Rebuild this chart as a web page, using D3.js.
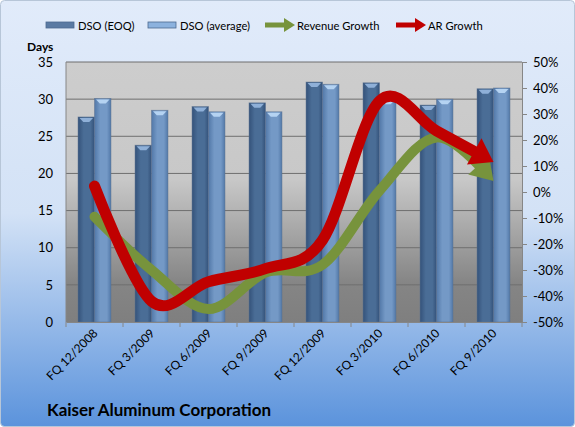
<!DOCTYPE html>
<html>
<head>
<meta charset="utf-8">
<script src="https://cdn.jsdelivr.net/npm/d3@7"></script>
<style>
  body { margin: 0; background: #fff; }
  svg text { font-family: Lato, "Open Sans", sans-serif; fill: #000; }
</style>
</head>
<body>
<div id="chart"></div>
<script>
// data
var categories = ["FQ 12/2008", "FQ 3/2009", "FQ 6/2009", "FQ 9/2009",
                  "FQ 12/2009", "FQ 3/2010", "FQ 6/2010", "FQ 9/2010"];
var dsoEoq = [27.6, 23.8, 29.0, 29.5, 32.3, 32.2, 29.2, 31.4];
var dsoAvg = [30.1, 28.5, 28.3, 28.3, 32.0, 30.0, 30.0, 31.5];
var revenueGrowth = [-9.5, -30, -45, -31, -28, 0.5, 21, 4.2];
var arGrowth = [2.3, -42, -34.5, -29.5, -18.5, 35, 23.5, 11.5];
var leftTicks = [0, 5, 10, 15, 20, 25, 30, 35];
var rightTicks = [-50, -40, -30, -20, -10, 0, 10, 20, 30, 40, 50];

var width = 575, height = 427;
var plot = { left: 66, right: 522, top: 62, bottom: 322 };

var svg = d3.select("#chart").append("svg")
    .attr("width", width)
    .attr("height", height);

var defs = svg.append("defs");

// chart background gradient
var bg = defs.append("linearGradient").attr("id", "bgGrad")
    .attr("x1", 0).attr("y1", 0).attr("x2", 0).attr("y2", 1);
bg.append("stop").attr("offset", "0%").attr("stop-color", "#e1ebfa");
bg.append("stop").attr("offset", "50%").attr("stop-color", "#d3e2f6");
bg.append("stop").attr("offset", "100%").attr("stop-color", "#5b93dc");

// plot area gradient
var pg = defs.append("linearGradient").attr("id", "plotGrad")
    .attr("x1", 0).attr("y1", 0).attr("x2", 0).attr("y2", 1);
pg.append("stop").attr("offset", "0%").attr("stop-color", "#cdcdcd");
pg.append("stop").attr("offset", "45%").attr("stop-color", "#c8c8c8");
pg.append("stop").attr("offset", "85%").attr("stop-color", "#858585");
pg.append("stop").attr("offset", "100%").attr("stop-color", "#7f7f7f");

// bar cylinder gradients
function barGrad(id, edge, mid) {
    var g = defs.append("linearGradient").attr("id", id)
        .attr("x1", 0).attr("y1", 0).attr("x2", 1).attr("y2", 0);
    g.append("stop").attr("offset", "0%").attr("stop-color", edge);
    g.append("stop").attr("offset", "35%").attr("stop-color", mid);
    g.append("stop").attr("offset", "75%").attr("stop-color", mid);
    g.append("stop").attr("offset", "100%").attr("stop-color", edge);
}
barGrad("eoqGrad", "#34527a", "#4a6d96");
barGrad("avgGrad", "#5278a8", "#7499c6");

svg.append("rect")
    .attr("x", 0.5).attr("y", 0.5)
    .attr("width", width - 1).attr("height", height - 1)
    .attr("rx", 4)
    .attr("fill", "url(#bgGrad)")
    .attr("stroke", "#b7c6d8");

// scales
var x = d3.scaleBand()
    .domain(categories)
    .range([plot.left, plot.right]);
var xSub = d3.scaleBand()
    .domain(["eoq", "avg"])
    .range([0, x.bandwidth()])
    .paddingInner(0)
    .paddingOuter(0.73);
var yLeft = d3.scaleLinear().domain([0, 35]).range([plot.bottom, plot.top]);
var yRight = d3.scaleLinear().domain([-50, 50]).range([plot.bottom, plot.top]);

// plot area
svg.append("rect")
    .attr("x", plot.left).attr("y", plot.top)
    .attr("width", plot.right - plot.left)
    .attr("height", plot.bottom - plot.top)
    .attr("fill", "url(#plotGrad)");

// gridlines
svg.append("g")
    .selectAll("line")
    .data(leftTicks.slice(1))
    .enter().append("line")
    .attr("x1", plot.left).attr("x2", plot.right)
    .attr("y1", function (d) { return yLeft(d); })
    .attr("y2", function (d) { return yLeft(d); })
    .attr("stroke", "#6f6f6f")
    .attr("stroke-width", 1);

// bars
var series = [
    { key: "eoq", values: dsoEoq, fill: "url(#eoqGrad)", cap: "#8fb0d8" },
    { key: "avg", values: dsoAvg, fill: "url(#avgGrad)", cap: "#b5d3f2" }
];
series.forEach(function (s) {
    var g = svg.append("g");
    g.selectAll("rect")
        .data(s.values)
        .enter().append("rect")
        .attr("x", function (d, i) { return x(categories[i]) + xSub(s.key); })
        .attr("y", function (d) { return yLeft(d); })
        .attr("width", xSub.bandwidth())
        .attr("height", function (d) { return plot.bottom - yLeft(d); })
        .attr("fill", s.fill)
        .attr("stroke", "#5c7290")
        .attr("stroke-opacity", 0.6)
        .attr("stroke-width", 0.8);
    // little top cap
    g.selectAll("path.cap")
        .data(s.values)
        .enter().append("path")
        .attr("class", "cap")
        .attr("d", function (d, i) {
            var x0 = x(categories[i]) + xSub(s.key) + 1.5;
            var w = xSub.bandwidth() - 3;
            var y0 = yLeft(d) + 1;
            return "M" + x0 + "," + y0 + "L" + (x0 + w) + "," + y0 +
                "L" + (x0 + w * 0.72) + "," + (y0 + 4) +
                "L" + (x0 + w * 0.28) + "," + (y0 + 4) + "Z";
        })
        .attr("fill", s.cap);
});

// axes
var axisColor = "#868686";
svg.append("line")
    .attr("x1", plot.left).attr("x2", plot.left)
    .attr("y1", plot.top).attr("y2", plot.bottom)
    .attr("stroke", axisColor);

var xAxis = svg.append("g")
    .attr("transform", "translate(0," + plot.bottom + ")")
    .call(d3.axisBottom(x).tickSize(0).tickFormat(""));
xAxis.select(".domain").attr("stroke", axisColor);
svg.append("g")
    .selectAll("line")
    .data(d3.range(categories.length + 1))
    .enter().append("line")
    .attr("x1", function (i) { return plot.left + i * x.step(); })
    .attr("x2", function (i) { return plot.left + i * x.step(); })
    .attr("y1", plot.bottom).attr("y2", plot.bottom + 5)
    .attr("stroke", axisColor);

svg.append("g")
    .selectAll("text")
    .data(categories)
    .enter().append("text")
    .attr("transform", function (d) {
        return "translate(" + (x(d) + x.bandwidth() / 2 + 4) + "," + (plot.bottom + 12) + ")rotate(-45)";
    })
    .attr("text-anchor", "end")
    .attr("font-size", 12)
    .text(function (d) { return d; });

var leftAxis = svg.append("g")
    .attr("transform", "translate(" + plot.left + ",0)")
    .call(d3.axisLeft(yLeft).tickValues(leftTicks).tickSize(0).tickPadding(13));
leftAxis.select(".domain").remove();
leftAxis.selectAll("text")
    .attr("font-size", 13)
    .attr("font-family", "Lato, sans-serif")
    .attr("fill", "#000");

var rightAxis = svg.append("g")
    .attr("transform", "translate(" + plot.right + ",0)")
    .call(d3.axisRight(yRight).tickValues(rightTicks).tickSize(5).tickPadding(6)
        .tickFormat(function (d) { return d + "%"; }));
rightAxis.select(".domain").attr("stroke", axisColor);
rightAxis.selectAll("line").attr("stroke", axisColor);
rightAxis.selectAll("text")
    .attr("font-size", 13)
    .attr("font-family", "Lato, sans-serif")
    .attr("fill", "#000");

svg.append("text")
    .attr("x", 27).attr("y", 51)
    .attr("font-size", 12)
    .attr("font-weight", "bold")
    .text("Days");

// growth lines with arrow heads
var line = d3.line()
    .x(function (d, i) { return x(categories[i]) + x.bandwidth() / 2; })
    .y(function (d) { return yRight(d); })
    .curve(d3.curveCatmullRom.alpha(0));

function drawArrow(values, color, lw, headLen, headW) {
    var path = svg.append("path")
        .attr("d", line(values))
        .attr("fill", "none")
        .attr("stroke", color)
        .attr("stroke-width", lw)
        .attr("stroke-linejoin", "round")
        .attr("stroke-linecap", "round");
    var node = path.node();
    var total = node.getTotalLength();
    path.attr("stroke-dasharray", (total - headLen + 1) + "," + (headLen + 10));
    var tip = node.getPointAtLength(total);
    var base = node.getPointAtLength(total - headLen);
    var ang = Math.atan2(tip.y - base.y, tip.x - base.x);
    var nx = -Math.sin(ang) * headW / 2, ny = Math.cos(ang) * headW / 2;
    svg.append("path")
        .attr("d", "M" + tip.x + "," + tip.y +
            "L" + (base.x + nx) + "," + (base.y + ny) +
            "L" + (base.x - nx) + "," + (base.y - ny) + "Z")
        .attr("fill", color);
}
drawArrow(revenueGrowth, "#77933c", 10, 22, 28);
drawArrow(arGrowth, "#c00000", 11, 22, 30);

// legend
var legend = svg.append("g").attr("transform", "translate(0,25)");
[
    { x: 46, label: "DSO (EOQ)", fill: "#5a7aa3", type: "bar" },
    { x: 148, label: "DSO (average)", fill: "#8cb2de", type: "bar" },
    { x: 265, label: "Revenue Growth", fill: "#77933c", type: "arrow" },
    { x: 396, label: "AR Growth", fill: "#c00000", type: "arrow" }
].forEach(function (item) {
    if (item.type === "bar") {
        legend.append("rect")
            .attr("x", item.x).attr("y", -3)
            .attr("width", 28).attr("height", 6)
            .attr("fill", item.fill)
            .attr("stroke", "#4d6a90").attr("stroke-width", 0.8);
    } else {
        legend.append("line")
            .attr("x1", item.x).attr("x2", item.x + 20)
            .attr("y1", 0).attr("y2", 0)
            .attr("stroke", item.fill).attr("stroke-width", 5);
        legend.append("path")
            .attr("d", "M" + (item.x + 30) + ",0L" + (item.x + 19) + ",-7L" + (item.x + 19) + ",7Z")
            .attr("fill", item.fill);
    }
    legend.append("text")
        .attr("x", item.x + 32).attr("y", 4.5)
        .attr("font-size", 11.2)
        .text(item.label);
});

// title
svg.append("text")
    .attr("x", 47).attr("y", 416)
    .attr("font-size", 17)
    .attr("font-weight", "bold")
    .text("Kaiser Aluminum Corporation");
</script>
</body>
</html>
